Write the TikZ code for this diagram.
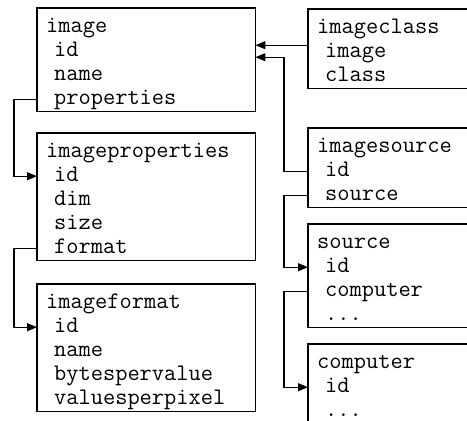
\documentclass[tikz,border=0pt]{standalone}
\usetikzlibrary{arrows.meta,positioning,fit}

\begin{document}
\begin{tikzpicture}[x=1pt, y=1pt,
    node distance=0pt,
    every node/.style={font=\ttfamily\fontsize{23.75}{24}\selectfont},
    row/.style={inner xsep=9pt, inner ysep=0pt, text width=200pt, align=left,
                text height=16.8pt, text depth=6.8pt},
    head/.style={row, text height=24pt},
    tbl/.style={draw, line width=1.2pt, inner sep=0pt},
    arr/.style={-{Triangle[length=10pt, width=8pt]}, line width=1.2pt}
  ]
  \useasboundingbox (0,0) rectangle (467,421);
  \clip (0,0) rectangle (467,421);

  % left column
  \node[head, anchor=north west] (img) at (37,413) {image};
  \node[row, below=of img]     (imgid)    {\ id};
  \node[row, below=of imgid]   (imgname)  {\ name};
  \node[row, below=of imgname] (imgprops) {\ properties};
  \node[tbl, fit=(img)(imgprops)] (image) {};

  \node[head, anchor=north west] (prp) at (37,288) {imageproperties};
  \node[row, below=of prp]     (prpid)     {\ id};
  \node[row, below=of prpid]   (prpdim)    {\ dim};
  \node[row, below=of prpdim]  (prpsize)   {\ size};
  \node[row, below=of prpsize] (prpformat) {\ format};
  \node[tbl, fit=(prp)(prpformat)] (imageproperties) {};

  \node[head, anchor=north west] (fmt) at (37,137) {imageformat};
  \node[row, below=of fmt]      (fmtid)     {\ id};
  \node[row, below=of fmtid]    (fmtname)   {\ name};
  \node[row, below=of fmtname]  (fmtbytes)  {\ bytespervalue};
  \node[row, below=of fmtbytes] (fmtvalues) {\ valuesperpixel};
  \node[tbl, fit=(fmt)(fmtvalues)] (imageformat) {};

  % right column
  \node[head, anchor=north west] (cls) at (308,412) {imageclass};
  \node[row, below=of cls]      (clsimage) {\ image};
  \node[row, below=of clsimage] (clsclass) {\ class};
  \node[tbl, fit=(cls)(clsclass)] (imageclass) {};

  \node[head, anchor=north west] (isrc) at (308,293) {imagesource};
  \node[row, below=of isrc]   (isrcid)     {\ id};
  \node[row, below=of isrcid] (isrcsource) {\ source};
  \node[tbl, fit=(isrc)(isrcsource)] (imagesource) {};

  \node[head, anchor=north west] (src) at (308,197) {source};
  \node[row, below=of src]         (srcid)       {\ id};
  \node[row, below=of srcid]       (srccomputer) {\ computer};
  \node[row, below=of srccomputer] (srcdots)     {\ ...};
  \node[tbl, fit=(src)(srcdots)] (source) {};

  \node[head, anchor=north west] (cmp) at (308,77) {computer};
  \node[row, below=of cmp]   (cmpid)   {\ id};
  \node[row, below=of cmpid] (cmpdots) {\ ...};
  \node[tbl, fit=(cmp)(cmpdots)] (computer) {};

  % links
  \draw[arr] (imgprops.west) -- ++(-23,0) |- (prpid.west);
  \draw[arr] (prpformat.west) -- ++(-23,0) |- (fmtid.west);
  \coordinate (clsin) at ([yshift=6pt]imgid.east);
  \draw[arr] (imageclass.west |- clsin) -- (clsin);
  \draw[arr] (isrcid.west) -- ++(-24,0) |- ([yshift=-6pt]imgid.east);
  \draw[arr] (isrcsource.west) -- ++(-24,0) |- (srcid.west);
  \draw[arr] (srccomputer.west) -- ++(-24,0) |- (cmpid.west);
\end{tikzpicture}
\end{document}
